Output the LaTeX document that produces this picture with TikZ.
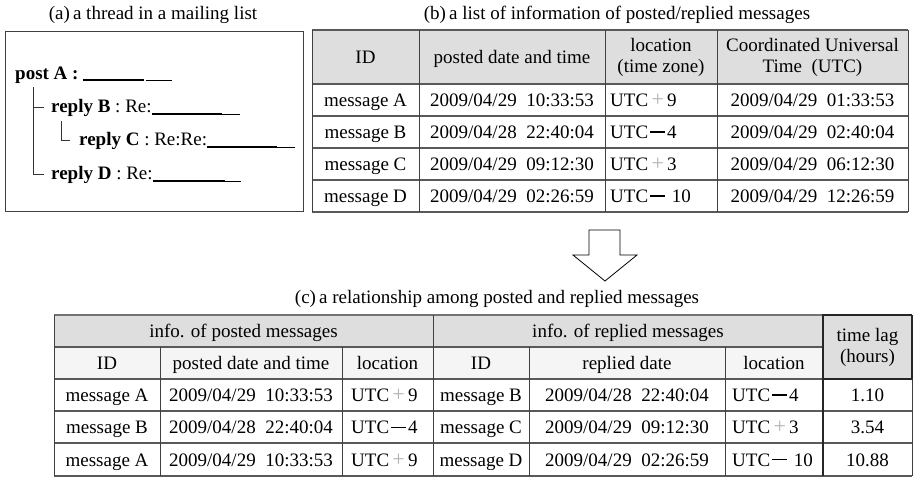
\documentclass[tikz,border=0pt]{standalone}
\usepackage{fontspec}
\setmainfont{Liberation Serif}
\usetikzlibrary{calc}
% light full-width plus and heavy minus used in the time zone cells
\newcommand{\tzplus}{\makebox[1em]{\textcolor{black!30}{\fontsize{22}{22}\selectfont +}}}
\newcommand{\tzminus}{\makebox[1em]{\rule[0.3em]{0.78em}{1.7pt}}}
\newcommand{\tzminusthin}{\makebox[1em]{\rule[0.32em]{0.78em}{0.9pt}}}
\begin{document}
\begin{tikzpicture}[x=1pt,y=-1pt,
  txt/.style={font=\fontsize{19}{21}\selectfont, inner sep=0pt},
  cell/.style={txt, anchor=base, yshift=-6.5pt},
  lft/.style={txt, anchor=base west, yshift=-6.5pt},
  ttl/.style={font=\fontsize{19}{21}\selectfont, inner sep=0pt},
  rule/.style={draw=black!75, line width=0.9pt},
  hrule/.style={draw=black!65, line width=1.1pt},
  ul/.style={line width=1.3pt},
  ulthin/.style={line width=0.7pt},
  tree/.style={line width=0.9pt, black!80},
  hdr/.style={fill=black!13},
  hdrlight/.style={fill=black!4}]
\useasboundingbox (0,0) rectangle (914,477);

% ---------------- (a) thread ----------------
\node[ttl] (ta) at (153,15) {(a)\,a thread in a mailing list};
\draw[rule] (5,31) rectangle (303,211);
\node[txt, anchor=base west] (pa) at (15,79) {\textbf{post A :}};
\node[txt, anchor=base west] (rb) at (51,112) {\textbf{reply B}\ : Re:};
\node[txt, anchor=base west] (rc) at (79,145) {\textbf{reply C}\ : Re:Re:};
\node[txt, anchor=base west] (rd) at (51,179) {\textbf{reply D}\ : Re:};
% subject underlines
\draw[ul] ($(pa.base east)+(4,1)$) -- ++(61,0) coordinate (pa1);
\draw[ulthin] ($(pa1)+(2,0)$) -- ++(26,0);
\draw[ul] ($(rb.base east)+(0,2)$) -- ++(70,0) coordinate (rb1);
\draw[ulthin] (rb1) -- ++(18,0);
\draw[ul] ($(rc.base east)+(0,2)$) -- ++(70,0) coordinate (rc1);
\draw[ulthin] (rc1) -- ++(18,0);
\draw[ul] ($(rd.base east)+(0,2)$) -- ++(72,0) coordinate (rd1);
\draw[ulthin] (rd1) -- ++(16,0);
% thread tree
\coordinate (t0) at (33,87);
\draw[tree] (t0) |- ($(rb.west)+(-7,0)$);
\draw[tree] (t0) |- ($(rd.west)+(-7,0)$);
\draw[tree] (61,121) |- ($(rc.west)+(-9,0)$);

% ---------------- (b) list ----------------
\node[ttl] (tb) at (617,15) {(b)\,a list of information of posted/replied messages};
\fill[hdr] (312,30) rectangle (908,84);
\foreach \y in {30,84,116,148,180,212} \draw[hrule] (312,\y) -- (908,\y);
\foreach \x in {312,419,605,717,908} \draw[rule] (\x,30) -- (\x,212);

\node[cell] (bh1) at (365.5,57) {ID};
\node[cell] (bh2) at (512,57) {posted date and time};
\node[txt, align=center] (bh3) at (661,57) {location\\(time zone)};
\node[txt, align=center] (bh4) at (812.5,57) {Coordinated Universal\\Time\ \ (UTC)};

\node[cell] (b1a) at (365.5,100) {message A};
\node[cell] (b1b) at (512,100) {2009/04/29\ \ 10:33:53};
\node[lft] (b1c) at (610,100) {UTC\tzplus 9};
\node[cell] (b1d) at (812.5,100) {2009/04/29\ \ 01:33:53};

\node[cell] (b2a) at (365.5,132) {message B};
\node[cell] (b2b) at (512,132) {2009/04/28\ \ 22:40:04};
\node[lft] (b2c) at (610,132) {UTC\tzminus 4};
\node[cell] (b2d) at (812.5,132) {2009/04/29\ \ 02:40:04};

\node[cell] (b3a) at (365.5,164) {message C};
\node[cell] (b3b) at (512,164) {2009/04/29\ \ 09:12:30};
\node[lft] (b3c) at (610,164) {UTC\tzplus 3};
\node[cell] (b3d) at (812.5,164) {2009/04/29\ \ 06:12:30};

\node[cell] (b4a) at (365.5,196) {message D};
\node[cell] (b4b) at (512,196) {2009/04/29\ \ 02:26:59};
\node[lft] (b4c) at (610,196) {UTC\tzminus\ 10};
\node[cell] (b4d) at (812.5,196) {2009/04/29\ \ 12:26:59};

% ---------------- block arrow ----------------
\draw[line width=0.8pt, fill=white] (589,230) -- (620,230) -- (620,255) -- (637,255)
  -- (605,281) -- (573,255) -- (589,255) -- cycle;

% ---------------- (c) relationship ----------------
\node[ttl] (tc) at (497,299) {(c)\,a relationship among posted and replied messages};
\fill[hdr] (54,315) rectangle (823,347);
\fill[hdrlight] (54,347) rectangle (823,379);
\fill[hdr] (823,315) rectangle (912,379);
\draw[draw=black!55, line width=2pt] (54,315) -- (823,315);
\draw[hrule] (54,347) -- (823,347);
\foreach \y in {379,411,443,476} \draw[hrule] (54,\y) -- (912,\y);
\foreach \x in {54,433} \draw[rule] (\x,315) -- (\x,476);
\foreach \x in {160,342,529,725} \draw[rule] (\x,347) -- (\x,476);
\draw[draw=black!85, line width=1.6pt] (912,315) -- (823,315) -- (823,476);
\draw[draw=black!85, line width=1.6pt] (823,379) -- (912,379) -- (912,315);
\draw[rule] (912,379) -- (912,476);

\node[cell] (ch1) at (243.5,331) {info. of posted messages};
\node[cell] (ch2) at (628,331) {info. of replied messages};
\node[txt, align=center] (ch3) at (867.5,347) {time lag\\(hours)};
\node[cell] (cs1) at (107,363) {ID};
\node[cell] (cs2) at (251,363) {posted date and time};
\node[cell] (cs3) at (387.5,363) {location};
\node[cell] (cs4) at (481,363) {ID};
\node[cell] (cs5) at (627,363) {replied date};
\node[cell] (cs6) at (774,363) {location};

\node[cell] (c1a) at (107,395) {message A};
\node[cell] (c1b) at (251,395) {2009/04/29\ \ 10:33:53};
\node[lft] (c1c) at (351,395) {UTC\tzplus 9};
\node[cell] (c1d) at (481,395) {message B};
\node[cell] (c1e) at (627,395) {2009/04/28\ \ 22:40:04};
\node[lft] (c1f) at (732,395) {UTC\tzminus 4};
\node[cell] (c1g) at (867.5,395) {1.10};

\node[cell] (c2a) at (107,427) {message B};
\node[cell] (c2b) at (251,427) {2009/04/28\ \ 22:40:04};
\node[lft] (c2c) at (351,427) {UTC\tzminusthin 4};
\node[cell] (c2d) at (481,427) {message C};
\node[cell] (c2e) at (627,427) {2009/04/29\ \ 09:12:30};
\node[lft] (c2f) at (732,427) {UTC\tzplus 3};
\node[cell] (c2g) at (867.5,427) {3.54};

\node[cell] (c3a) at (107,459.5) {message A};
\node[cell] (c3b) at (251,459.5) {2009/04/29\ \ 10:33:53};
\node[lft] (c3c) at (351,459.5) {UTC\tzplus 9};
\node[cell] (c3d) at (481,459.5) {message D};
\node[cell] (c3e) at (627,459.5) {2009/04/29\ \ 02:26:59};
\node[lft] (c3f) at (732,459.5) {UTC\tzminusthin\ 10};
\node[cell] (c3g) at (867.5,459.5) {10.88};
\end{tikzpicture}
\end{document}
